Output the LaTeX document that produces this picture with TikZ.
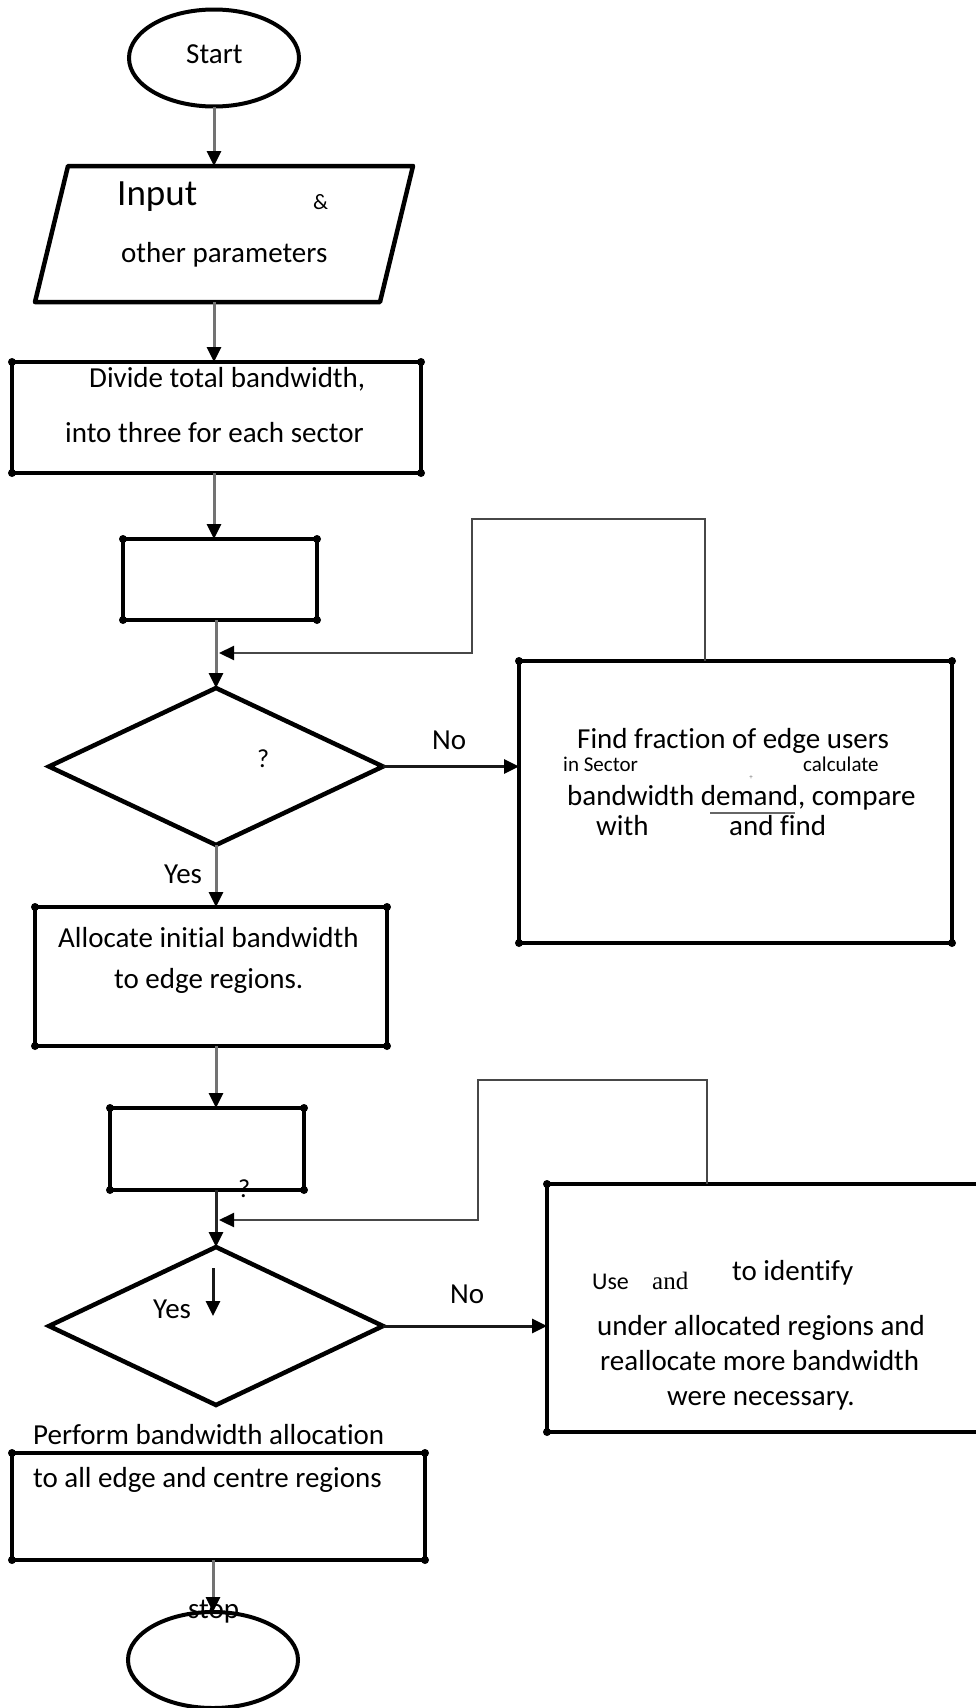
\documentclass[tikz,border=0pt]{standalone}
\usepackage{fontspec}
\setmainfont{Carlito}[RawFeature={-liga;-clig;-calt;-dlig;-rlig}]
\newfontfamily\serifadd{Liberation Serif}
\usetikzlibrary{shapes.geometric,arrows.meta}
\begin{document}
\begin{tikzpicture}[x=1pt,y=-1pt,
  procbox/.style={draw, rectangle, line width=4.5pt, inner sep=0pt, outer sep=0pt},
  term/.style={draw, ellipse, line width=4pt, inner sep=0pt, outer sep=0pt},
  dec/.style={draw, diamond, line width=4.5pt, inner sep=0pt, outer sep=0pt, line join=miter},
  flow/.style={draw=black!55, line width=3pt, -{Triangle[length=15pt,width=14pt,color=black]}},
  flowdark/.style={draw=black!85, line width=3pt, -{Triangle[length=15pt,width=14pt,color=black]}},
  noarrow/.style={draw=black!90, line width=3pt, -{Triangle[length=15pt,width=14pt,color=black]}},
  loopln/.style={draw=black!72, line width=2.2pt, -{Triangle[length=15pt,width=14pt,color=black]}},
  txt/.style={inner sep=0pt, anchor=base west, font=\fontsize{29}{35}\selectfont},
  smalltxt/.style={inner sep=0pt, anchor=base west, font=\fontsize{21}{25}\selectfont}
]
\useasboundingbox (0,0) rectangle (975,1708);

% ---- shapes ----
\node[term, minimum width=170pt, minimum height=97pt] (start) at (214,58) {};
\node[inner sep=0pt, outer sep=0pt, minimum width=300pt, minimum height=136pt] (input) at (224,234) {};
\draw[line width=4.5pt, line join=round] (68,166) -- (413,166) -- (380,302) -- (35,302) -- cycle;
\node[procbox, minimum width=409pt, minimum height=111pt] (divide) at (216.5,417.5) {};
\node[procbox, minimum width=194pt, minimum height=81pt] (sel1) at (220,579.5) {};
\node[dec, minimum width=334pt, minimum height=157pt] (dec1) at (216,766.5) {};
\node[procbox, minimum width=433pt, minimum height=282pt] (find) at (735.5,802) {};
\node[procbox, minimum width=352pt, minimum height=139pt] (alloc) at (211,976.5) {};
\node[procbox, minimum width=194pt, minimum height=82pt] (sel2) at (207,1149) {};
\node[dec, minimum width=334pt, minimum height=158pt] (dec2) at (216,1326) {};
\node[procbox, minimum width=443pt, minimum height=248pt] (use) at (768.5,1308) {};
\node[procbox, minimum width=413pt, minimum height=107pt] (perform) at (218.5,1506.5) {};
\node[term, minimum width=170pt, minimum height=96pt] (stop) at (213,1660) {};

% corner dots of the process boxes
\foreach \n in {divide,sel1,find,alloc,sel2,use,perform}
  \foreach \c in {north west,north east,south west,south east}
    \fill (\n.\c) circle (4pt);

% ---- connectors ----
\draw[flow] (start.south) -- (start.south |- input.north);
\draw[flow] (input.south -| start.south) -- (start.south |- divide.north);
\draw[flow] (divide.south -| start.south) -- (start.south |- sel1.north);
\draw[flow] (sel1.south -| dec1.north) -- (dec1.north);
\draw[noarrow] (dec1.east) -- (dec1.east -| find.west);
\draw[flow] (dec1.south) -- (dec1.south |- alloc.north);
\draw[flow] (alloc.south -| dec1.south) -- (dec1.south |- sel2.north);
\draw[flowdark] (sel2.south -| dec2.north) -- (dec2.north);
\draw[noarrow] (dec2.east) -- (dec2.east -| use.west);
\draw[flow] (perform.south -| stop.north) -- (stop.north);

\coordinate (l1a) at (705,519);
\coordinate (l1b) at (472,653);
\coordinate (l1e) at (219,653);
\draw[loopln] (find.north -| l1a) -- (l1a) -| (l1b) -- (l1e);

\coordinate (l2a) at (707,1080);
\coordinate (l2b) at (478,1220);
\coordinate (l2e) at (219,1220);
\draw[loopln] (use.north -| l2a) -- (l2a) -| (l2b) -- (l2e);

\coordinate (ya) at (213,1268);
\coordinate (yb) at (213,1316);
\draw[noarrow] (ya) -- (yb);

% ---- texts ----
\node[txt] (tstart) at (186,63) {Start};
\node[txt, font=\fontsize{37}{44}\selectfont] (tinput) at (117,205) {Input};
\node[txt, font=\fontsize{22}{26}\selectfont] (tamp) at (313,209) {\&};
\node[txt] (tother) at (121,262) {other parameters};
\node[txt] (tdiv1) at (89,387) {Divide total bandwidth,};
\node[txt] (tdiv2) at (65,442) {into three for each sector};
\node[txt, font=\fontsize{26}{30}\selectfont] (tq1) at (257,767) {?};
\node[txt] (tno1) at (432,749) {No};
\node[txt] (tf1) at (577,748) {Find fraction of edge users};
\node[smalltxt] (tf2) at (563,771) {in Sector};
\node[smalltxt] (tf3) at (803,771) {calculate};
\node[txt] (tf4) at (567,805) {bandwidth demand, compare};
\node[txt] (tf5) at (596,835) {with};
\node[txt] (tf6) at (729,835) {and find};
\draw[draw=black!60, line width=2.2pt] (710,813) -- (795,813);
\node[inner sep=0pt, text=black!55, font=\fontsize{7}{8}\selectfont] (tplus) at (751,778) {+};
\node[txt] (tyes1) at (164,883) {Yes};
\node[txt] (tal1) at (58,947) {Allocate initial bandwidth};
\node[txt] (tal2) at (114,988) {to edge regions.};
\node[txt, font=\fontsize{26}{30}\selectfont] (tq2) at (238,1197) {?};
\node[txt] (tyes2) at (153,1318) {Yes};
\node[txt] (tno2) at (450,1303) {No};
\node[txt, font=\fontsize{24}{28}\selectfont] (tuse) at (592,1289) {Use};
\node[txt, font=\fontsize{25}{28}\serifadd] (tand) at (652,1289) {and};
\node[txt] (tid) at (732,1280) {to identify};
\node[txt] (tu1) at (597,1335) {under allocated regions and};
\node[txt] (tu2) at (600,1370) {reallocate more bandwidth};
\node[txt] (tu3) at (667,1405) {were necessary.};
\node[txt] (tp1) at (33,1444) {Perform bandwidth allocation};
\node[txt] (tp2) at (33,1487) {to all edge and centre regions};
\node[txt] (tstop) at (188,1618) {stop};
\end{tikzpicture}
\end{document}
